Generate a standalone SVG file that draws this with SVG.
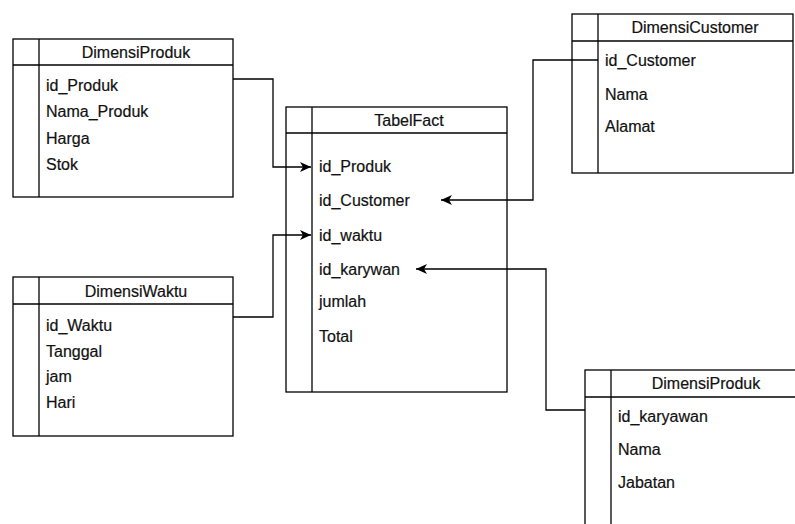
<svg xmlns="http://www.w3.org/2000/svg" width="795" height="524" viewBox="0 0 795 524">
<style>
.box{fill:#fff;stroke:#000;stroke-width:1.3}
.ln{fill:none;stroke:#000;stroke-width:1.3}
.t{font-family:"Liberation Sans",Arial,sans-serif;font-size:16px;fill:#111;stroke:#111;stroke-width:0.2}
.h{text-anchor:middle}
.edge{fill:none;stroke:#000;stroke-width:1.3}
</style>
<defs>
<marker id="arr" markerUnits="userSpaceOnUse" markerWidth="12" markerHeight="10" refX="11" refY="5" orient="auto">
<path d="M0,0 L11,5 L0,10 L3,5 z" fill="#000"/>
</marker>
</defs>
<rect width="795" height="524" fill="#fff"/>
<g id="DimensiProduk">
<rect class="box" x="13" y="39" width="220" height="158"/>
<line class="ln" x1="13" y1="65" x2="233" y2="65"/>
<line class="ln" x1="39" y1="39" x2="39" y2="197"/>
<text class="t h" x="136" y="58">DimensiProduk</text>
<text class="t" x="46" y="91">id_Produk</text>
<text class="t" x="46" y="117">Nama_Produk</text>
<text class="t" x="46" y="144">Harga</text>
<text class="t" x="46" y="170">Stok</text>
</g>
<g id="TabelFact">
<rect class="box" x="286" y="107" width="221" height="285"/>
<line class="ln" x1="286" y1="133" x2="507" y2="133"/>
<line class="ln" x1="312" y1="107" x2="312" y2="392"/>
<text class="t h" x="409" y="126">TabelFact</text>
<text class="t" x="319" y="172">id_Produk</text>
<text class="t" x="319" y="206">id_Customer</text>
<text class="t" x="319" y="241">id_waktu</text>
<text class="t" x="319" y="275">id_karywan</text>
<text class="t" x="319" y="307">jumlah</text>
<text class="t" x="319" y="342">Total</text>
</g>
<g id="DimensiCustomer">
<rect class="box" x="572" y="14" width="221" height="159"/>
<line class="ln" x1="572" y1="41" x2="793" y2="41"/>
<line class="ln" x1="598" y1="14" x2="598" y2="173"/>
<text class="t h" x="695" y="33">DimensiCustomer</text>
<text class="t" x="605" y="66">id_Customer</text>
<text class="t" x="605" y="100">Nama</text>
<text class="t" x="605" y="132">Alamat</text>
</g>
<g id="DimensiWaktu">
<rect class="box" x="13" y="277" width="220" height="159"/>
<line class="ln" x1="13" y1="304" x2="233" y2="304"/>
<line class="ln" x1="39" y1="277" x2="39" y2="436"/>
<text class="t h" x="136" y="297">DimensiWaktu</text>
<text class="t" x="46" y="331">id_Waktu</text>
<text class="t" x="46" y="357">Tanggal</text>
<text class="t" x="46" y="382">jam</text>
<text class="t" x="46" y="408">Hari</text>
</g>
<g id="DimensiKaryawan">
<rect class="box" x="585" y="370" width="216" height="170"/>
<line class="ln" x1="585" y1="397" x2="801" y2="397"/>
<line class="ln" x1="611" y1="370" x2="611" y2="540"/>
<text class="t h" x="706" y="389">DimensiProduk</text>
<text class="t" x="618" y="422">id_karyawan</text>
<text class="t" x="618" y="455">Nama</text>
<text class="t" x="618" y="488">Jabatan</text>
</g>
<g id="connectors">
<path class="edge" d="M233,79 H273 V167 H311" marker-end="url(#arr)"/>
<path class="edge" d="M598,60 H533 V200 H441" marker-end="url(#arr)"/>
<path class="edge" d="M233,317 H273 V235 H311" marker-end="url(#arr)"/>
<path class="edge" d="M585,410 H546 V269 H416" marker-end="url(#arr)"/>
</g>
</svg>
